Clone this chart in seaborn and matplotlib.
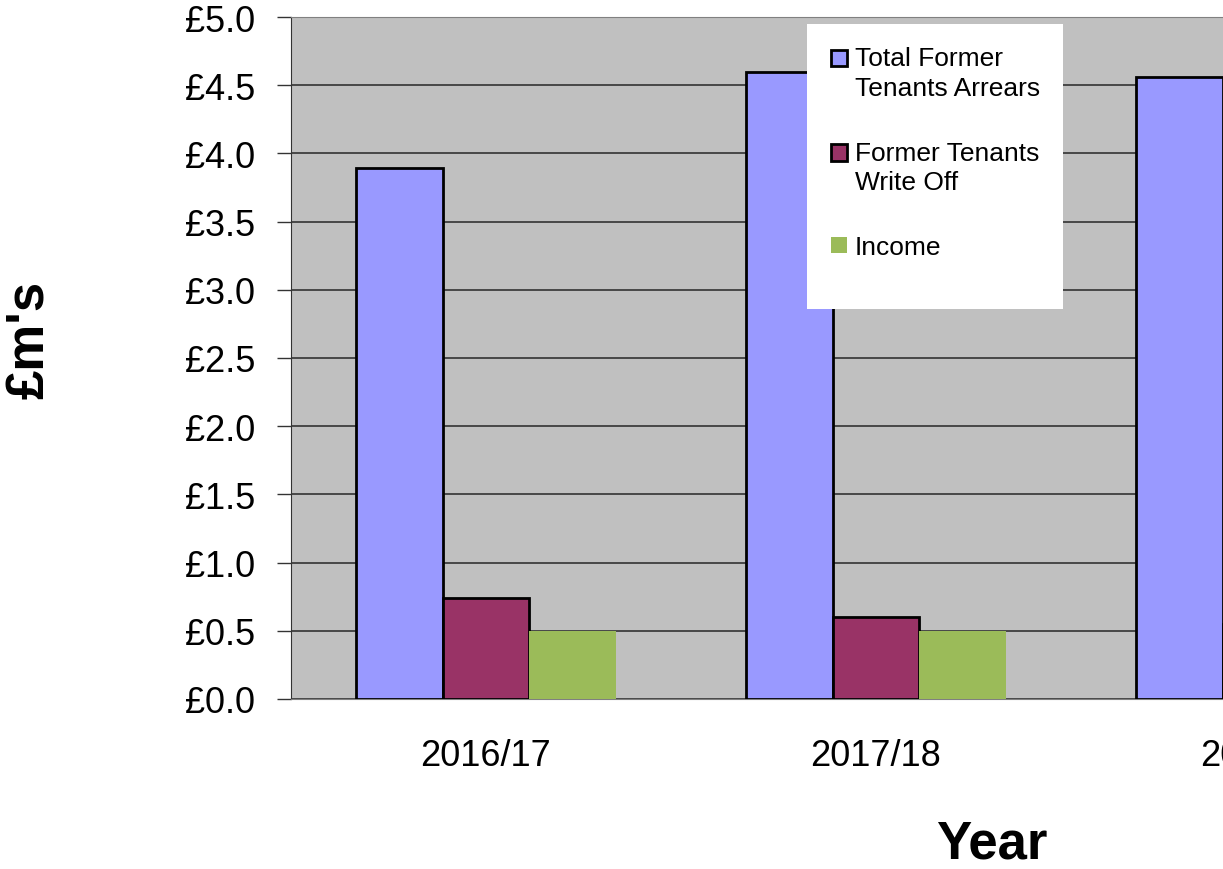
import pandas as pd
import matplotlib
matplotlib.use("Agg")
import matplotlib.pyplot as plt
import seaborn as sns
from matplotlib.patches import Patch, Rectangle
from matplotlib.legend_handler import HandlerPatch
from matplotlib.ticker import MultipleLocator, FixedLocator

# values, in £m
years = ["2016/17", "2017/18", "2018/19"]
series = ["Total Former\nTenants Arrears", "Former Tenants\nWrite Off", "Income"]
arrears = [3.89, 4.60, 4.56]
write_off = [0.74, 0.60, 0.55]
income = [0.50, 0.50, 0.50]
colors = ["#9999FF", "#993366", "#9BBB59"]

df = pd.DataFrame({
    "Year": years * 3,
    "Series": [series[0]] * 3 + [series[1]] * 3 + [series[2]] * 3,
    "Value": arrears + write_off + income,
})

sns.set_style("white")
plt.rcParams["font.family"] = ["Liberation Sans", "DejaVu Sans"]
plt.rcParams["text.color"] = "black"
plt.rcParams["xtick.color"] = "black"
plt.rcParams["ytick.color"] = "black"

fig = plt.figure(figsize=(12.23, 8.70), dpi=100)
# the plot area runs off the right edge of the picture, as in the original
ax = fig.add_axes([291 / 1223, 170 / 870, 3 * 390 / 1223, 682 / 870])
ax.set_facecolor("#C0C0C0")

sns.barplot(data=df, x="Year", y="Value", hue="Series", palette=colors,
            width=2 / 3, gap=0, saturation=1, ax=ax, legend=False, zorder=3)

for i, cont in enumerate(ax.containers):
    for bar in cont:
        if i < 2:
            bar.set_edgecolor("black")
            bar.set_linewidth(2)
        else:
            bar.set_edgecolor("none")

ax.set_xlim(-0.5, 2.5)
ax.set_ylim(0, 5)
ax.yaxis.set_major_locator(MultipleLocator(0.5))
ax.set_yticklabels([f"£{v:.1f}" for v in ax.get_yticks()])
ax.grid(axis="y", color="#333333", linewidth=1.2, zorder=0)
ax.set_axisbelow(True)

ax.xaxis.set_minor_locator(FixedLocator([-0.5, 0.5, 1.5, 2.5]))
ax.tick_params(axis="x", which="major", length=0, pad=28, labelsize=26, labelcolor="black")
ax.tick_params(axis="x", which="minor", length=7, width=1, color="#555555", direction="out")
ax.tick_params(axis="y", length=10, width=1, color="#333333", pad=16, labelsize=26,
               left=True, labelcolor="black")

for side in ["top", "right"]:
    ax.spines[side].set_color("#808080")
ax.spines["left"].set_color("#333333")
ax.spines["bottom"].set_color("#808080")

ax.set_xlabel("")
ax.set_ylabel("")

# white legend box, taller than its entries
fig.patches.append(Rectangle((807 / 1223, 1 - 310 / 870), 256 / 1223, 285 / 870,
                             transform=fig.transFigure, facecolor="white",
                             edgecolor="none", zorder=5))


# put the square next to the first line of a two-line label
def first_line_square(legend, orig_handle, xdescent, ydescent, width, height, fontsize):
    return Rectangle((-xdescent, -ydescent + 0.57 * fontsize), width, height)


handles = [
    Patch(facecolor=colors[0], edgecolor="black", linewidth=2),
    Patch(facecolor=colors[1], edgecolor="black", linewidth=2),
    Patch(facecolor=colors[2], edgecolor="none"),
]
raised = HandlerPatch(patch_func=first_line_square)
leg = fig.legend(handles, series, loc="upper left", bbox_to_anchor=(831 / 1223, 1 - 47 / 870),
                 fontsize=19, frameon=False, handlelength=0.6, handleheight=0.6,
                 handletextpad=0.3, labelspacing=1.55, borderpad=0, borderaxespad=0,
                 handler_map={handles[0]: raised, handles[1]: raised})
leg.set_zorder(10)
for t in leg.get_texts():
    t.set_linespacing(1.3)
    t.set_color("black")

fig.text(992 / 1223, 1 - 845 / 870, "Year", ha="center", va="center",
         fontsize=38, fontweight="bold")
fig.text(30 / 1223, 1 - 340 / 870, "£m's", ha="center", va="center",
         fontsize=38, fontweight="bold", rotation=90)

fig.savefig("out.png", dpi=100)
